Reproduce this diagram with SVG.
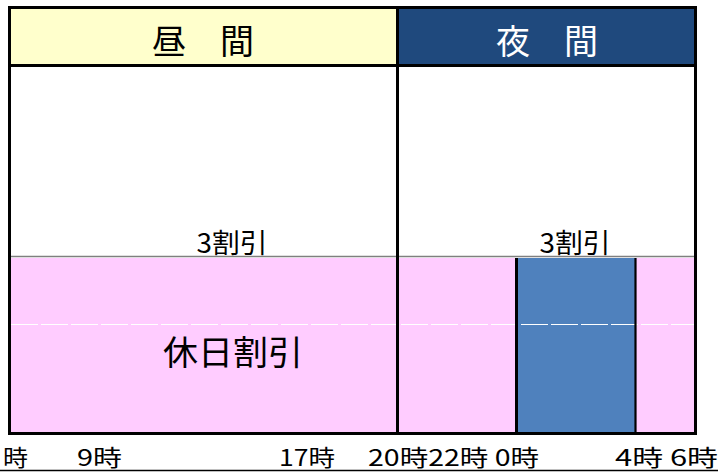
<svg xmlns="http://www.w3.org/2000/svg" width="718" height="472" viewBox="0 0 718 472">
<style>
text{font-family:"Noto Sans CJK JP","Noto Sans",sans-serif;fill:#000}
.hd{font-size:34px;text-anchor:middle}
.lb{font-size:27px;text-anchor:middle}
.tm{font-size:23px}
.bd{stroke:#000;stroke-width:3;fill:none}
.pink{fill:#FFCCFF}
</style>
<rect width="718" height="472" fill="#FFFFFF"/>
<g id="header-day">
<rect x="11" y="9" width="385" height="55" fill="#FFFFCC"/>
<text class="hd" x="203" y="54">昼　間</text>
</g>
<g id="header-night">
<rect x="399" y="9" width="295" height="55" fill="#1F497D"/>
<text class="hd" x="547" y="54" style="fill:#FFFFFF">夜　間</text>
</g>
<g id="day-discount">
<rect x="11" y="67" width="385" height="189" fill="#FFFFFF"/>
<text class="lb" x="232" y="253" textLength="71" lengthAdjust="spacingAndGlyphs">3割引</text>
</g>
<g id="night-discount">
<rect x="399" y="67" width="295" height="189" fill="#FFFFFF"/>
<text class="lb" x="575" y="253" textLength="71" lengthAdjust="spacingAndGlyphs">3割引</text>
</g>
<g id="holiday-day">
<rect class="pink" x="11" y="258" width="385" height="174"/>
<text x="233" y="365" style="font-size:34px;text-anchor:middle" textLength="140" lengthAdjust="spacingAndGlyphs">休日割引</text>
</g>
<g id="holiday-night-a">
<rect class="pink" x="399" y="258" width="117" height="174"/>
</g>
<g id="late-night">
<rect x="516" y="258" width="119" height="174" fill="#4F81BD"/>
</g>
<g id="holiday-night-b">
<rect class="pink" x="636" y="258" width="58" height="174"/>
</g>
<g id="connectors">
<line x1="11" y1="256.5" x2="694" y2="256.5" stroke="#7F7F7F" stroke-width="1.4"/>
<line x1="11" y1="324.5" x2="694" y2="324.5" stroke="#FFFFFF" stroke-width="1.2" stroke-dasharray="27 3"/>
<rect class="bd" x="9.5" y="7.5" width="686" height="426"/>
<line class="bd" x1="9.5" y1="65.5" x2="695.5" y2="65.5"/>
<line class="bd" x1="397.5" y1="7.5" x2="397.5" y2="433.5"/>
<line class="bd" x1="516.5" y1="258" x2="516.5" y2="433.5"/>
<line x1="635.5" y1="258" x2="635.5" y2="433.5" stroke="#000" stroke-width="2.2"/>
<line x1="0" y1="470.5" x2="718" y2="470.5" stroke="#000" stroke-width="1.5"/>
</g>
<g id="time-labels">
<text class="tm" x="3" y="466" textLength="25" lengthAdjust="spacingAndGlyphs">時</text>
<text class="tm" x="77" y="466" textLength="45" lengthAdjust="spacingAndGlyphs">9時</text>
<text class="tm" x="279" y="466" textLength="56" lengthAdjust="spacingAndGlyphs">17時</text>
<text class="tm" x="368" y="466" textLength="171" lengthAdjust="spacingAndGlyphs">20時22時 0時</text>
<text class="tm" x="615" y="466" textLength="103" lengthAdjust="spacingAndGlyphs">4時 6時</text>
</g>
</svg>
